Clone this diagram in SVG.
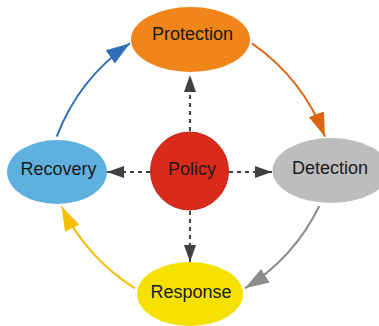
<svg xmlns="http://www.w3.org/2000/svg" width="379" height="326" viewBox="0 0 379 326">
<style>
text{font-family:"Liberation Sans",Arial,sans-serif;font-size:18px;fill:#1a1a1a;text-anchor:middle}
.arc{fill:none;stroke-width:2}
.dash{fill:none;stroke:#404040;stroke-width:2;stroke-dasharray:4 4}
</style>
<defs>
<marker id="mBlue" markerUnits="userSpaceOnUse" markerWidth="24" markerHeight="16" refX="24" refY="8" orient="auto"><path d="M0,0 L24,8 L0,16 z" fill="#2f6fb7"/></marker>
<marker id="mOrange" markerUnits="userSpaceOnUse" markerWidth="24" markerHeight="16" refX="24" refY="8" orient="auto"><path d="M0,0 L24,8 L0,16 z" fill="#dd6410"/></marker>
<marker id="mGray" markerUnits="userSpaceOnUse" markerWidth="24" markerHeight="16" refX="24" refY="8" orient="auto"><path d="M0,0 L24,8 L0,16 z" fill="#8c8c8c"/></marker>
<marker id="mYellow" markerUnits="userSpaceOnUse" markerWidth="24" markerHeight="16" refX="24" refY="8" orient="auto"><path d="M0,0 L24,8 L0,16 z" fill="#f5bf00"/></marker>
<marker id="mDark" markerUnits="userSpaceOnUse" markerWidth="17" markerHeight="12" refX="17" refY="6" orient="auto"><path d="M0,0 L17,6 L0,12 z" fill="#404040"/></marker>
</defs>
<g id="connectors">
<path class="arc" stroke="#2f6fb7" d="M56.7,136.7 A200,200 0 0 1 130,43.3" marker-end="url(#mBlue)"/>
<path class="arc" stroke="#dd6410" d="M251.7,43.3 A200,200 0 0 1 325,136.7" marker-end="url(#mOrange)"/>
<path class="arc" stroke="#8c8c8c" d="M319.3,206 A200,200 0 0 1 245,288.3" marker-end="url(#mGray)"/>
<path class="arc" stroke="#f5bf00" d="M135,288.3 A200,200 0 0 1 61.7,206.7" marker-end="url(#mYellow)"/>
<path class="dash" d="M190,131 L190,75" marker-end="url(#mDark)"/>
<path class="dash" d="M150,172 L107,172" marker-end="url(#mDark)"/>
<path class="dash" d="M229,172 L272,172" marker-end="url(#mDark)"/>
<path class="dash" d="M190,211 L190,262" marker-end="url(#mDark)"/>
</g>
<g id="protection">
<ellipse cx="190.5" cy="39.5" rx="59.5" ry="32.5" fill="#f08519"/>
<text x="192.5" y="40">Protection</text>
</g>
<g id="policy">
<circle cx="189.5" cy="171" r="39" fill="#da2a1c" stroke="#c0231a" stroke-width="1"/>
<text x="192" y="175">Policy</text>
</g>
<g id="detection">
<ellipse cx="331" cy="170.5" rx="58.5" ry="32.5" fill="#bdbdbd"/>
<text x="330" y="173.5">Detection</text>
</g>
<g id="recovery">
<ellipse cx="57" cy="172" rx="50" ry="32" fill="#5fb0de"/>
<text x="58.5" y="174.5">Recovery</text>
</g>
<g id="response">
<ellipse cx="190" cy="294" rx="53" ry="32" fill="#f5e100"/>
<text x="191" y="298">Response</text>
</g>
</svg>
